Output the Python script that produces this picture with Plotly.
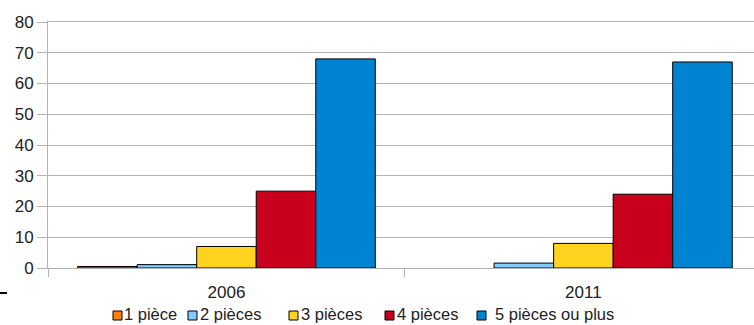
import plotly.graph_objects as go

years = ["2006", "2011"]
series_names = ["1 pièce", "2 pièces", "3 pièces", "4 pièces", "5 pièces ou plus"]
piece1 = [0.5, None]
piece2 = [1.1, 1.6]
piece3 = [7, 8]
piece4 = [25, 24]
piece5 = [68, 67]
y_ticks = [0, 10, 20, 30, 40, 50, 60, 70, 80]

colors = ["#ff8000", "#83caff", "#ffd320", "#c8001c", "#0084d1"]
values = [piece1, piece2, piece3, piece4, piece5]

W, H = 754, 325
L, R, T, B = 48, 0, 22, 57
pw, ph = W - L - R, H - T - B


def px_x(px):
    return (px - L) / pw


def px_y(py):
    return (H - B - py) / ph


fig = go.Figure()
for name, vals, col in zip(series_names, values, colors):
    fig.add_trace(go.Bar(
        x=years, y=vals, name=name,
        marker=dict(color=col, line=dict(color="#000000", width=1)),
    ))

# manual legend (compact, as in the reference)
legend_square_x = [113, 188, 289, 385, 477]
legend_text_x = [123, 199, 300, 396, 494]
legend_y = 314
for name, col, sx, tx in zip(series_names, colors, legend_square_x, legend_text_x):
    fig.add_shape(type="rect", xref="paper", yref="paper",
                  x0=px_x(sx), x1=px_x(sx + 9), y0=px_y(legend_y + 6), y1=px_y(legend_y - 3),
                  fillcolor=col, line=dict(color="#000000", width=1))
    fig.add_annotation(xref="paper", yref="paper", x=px_x(tx), y=px_y(legend_y),
                       text=name, showarrow=False, xanchor="left", yanchor="middle",
                       borderpad=0,
                       font=dict(size=16.5, color="#222222"))

# small dark mark at the lower left of the reference
fig.add_shape(type="line", xref="paper", yref="paper",
              x0=px_x(0), x1=px_x(7), y0=px_y(293), y1=px_y(293),
              line=dict(color="#000000", width=2))

grid = "#b3b3b3"
fig.update_layout(
    width=W, height=H,
    margin=dict(l=L, r=R, t=T, b=B, autoexpand=False),
    paper_bgcolor="white", plot_bgcolor="white",
    barmode="group", bargap=0.166, bargroupgap=0,
    font=dict(family="Liberation Sans, Arial, sans-serif", size=17, color="#222222"),
    showlegend=False,
    xaxis=dict(type="category", range=[-0.5, 1.478], tickson="boundaries",
               ticks="outside", ticklen=8, tickcolor=grid, ticklabelstandoff=9,
               showline=True, linecolor=grid, linewidth=1, mirror=True,
               showgrid=False, fixedrange=True),
    yaxis=dict(range=[0, 80], tickvals=y_ticks, ticks="outside", ticklen=10,
               tickcolor=grid, showgrid=True, gridcolor=grid, gridwidth=1,
               showline=True, linecolor=grid, zeroline=False, fixedrange=True),
)

fig.write_html("out.html")
